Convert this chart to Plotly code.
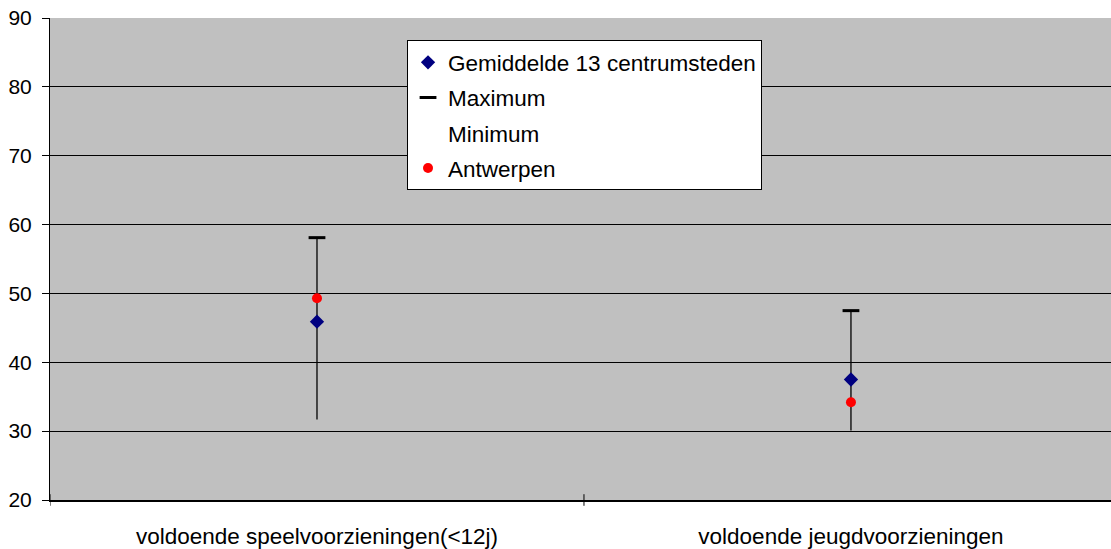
import plotly.graph_objects as go

categories = ["voldoende speelvoorzieningen(<12j)", "voldoende jeugdvoorzieningen"]
gemiddelde = [45.9, 37.5]
maximum = [58.1, 47.5]
minimum = [31.7, 30.1]
antwerpen = [49.3, 34.2]

xpos = list(range(len(categories)))

fig = go.Figure()

# high-low lines
hx, hy = [], []
for i in xpos:
    hx += [i, i, None]
    hy += [minimum[i], maximum[i], None]
fig.add_trace(go.Scatter(x=hx, y=hy, mode="lines", line=dict(color="black", width=1.3),
                         showlegend=False, hoverinfo="skip"))

fig.add_trace(go.Scatter(x=xpos, y=gemiddelde, mode="markers", name="Gemiddelde 13 centrumsteden",
                         marker=dict(symbol="diamond", color="#000080", size=11), legendgroup="a"))
fig.add_trace(go.Scatter(x=xpos, y=maximum, mode="markers", name="Maximum",
                         marker=dict(symbol="line-ew", size=12, line=dict(color="black", width=3)), legendgroup="b"))
fig.add_trace(go.Scatter(x=xpos, y=minimum, mode="markers", name="Minimum",
                         marker=dict(symbol="circle", size=8, color="rgba(0,0,0,0)"), legendgroup="c"))
fig.add_trace(go.Scatter(x=xpos, y=antwerpen, mode="markers", name="Antwerpen",
                         marker=dict(symbol="circle", color="#ff0000", size=10), legendgroup="d"))

fig.update_layout(
    width=1111, height=549,
    margin=dict(l=50, r=0, t=18, b=49, autoexpand=False),
    paper_bgcolor="white", plot_bgcolor="#c0c0c0",
    font=dict(family="Liberation Sans, Arial, sans-serif", size=21, color="black"),
    showlegend=True,
    legend=dict(x=0.3365, y=0.954, xanchor="left", yanchor="top",
                bgcolor="white", bordercolor="black", borderwidth=1,
                font=dict(size=22.5), tracegroupgap=3, itemwidth=30),
    xaxis=dict(range=[-0.5, 1.487], tickmode="array", tickvals=xpos, ticktext=categories,
               showgrid=False, zeroline=False, showline=True, linecolor="black", linewidth=1.5,
               ticks="", tickfont=dict(size=22.5), ticklabelstandoff=15, automargin=False),
    yaxis=dict(range=[20, 90], dtick=10, tick0=20, showgrid=True, gridcolor="black", gridwidth=1,
               zeroline=False, showline=True, linecolor="black", linewidth=1,
               ticks="outside", ticklen=7, tickcolor="black", tickfont=dict(size=21),
               ticklabelstandoff=6, automargin=False),
)

# category separator tick marks
for xv in [-0.5, 0.5]:
    fig.add_shape(type="line", xref="x", yref="paper", x0=xv, x1=xv, y0=-0.012, y1=0.012,
                  line=dict(color="black", width=1))

fig.write_html("out.html", config={"displayModeBar": False},
               post_script="document.body.style.margin='0';")
